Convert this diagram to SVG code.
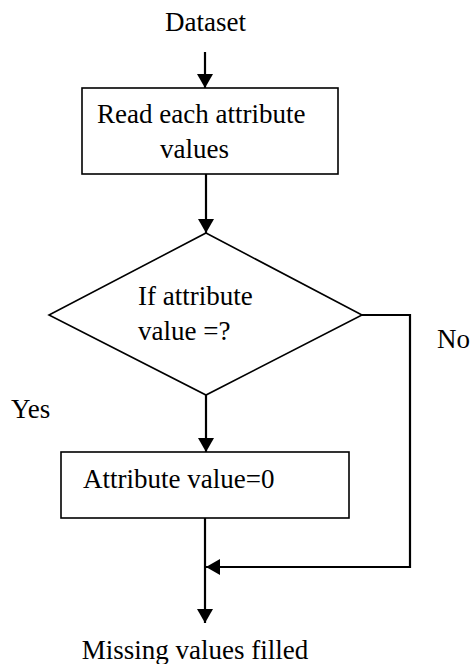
<svg xmlns="http://www.w3.org/2000/svg" width="472" height="664" viewBox="0 0 472 664">
<style>
text{font-family:"Liberation Serif","Times New Roman",serif;font-size:27px;fill:#000}
.shape{fill:#fff;stroke:#000;stroke-width:1.6}
.conn{fill:none;stroke:#000;stroke-width:2.2}
</style>
<defs>
<marker id="arr" markerUnits="userSpaceOnUse" markerWidth="14" markerHeight="16" refX="14" refY="8" orient="auto">
<path d="M0,0 L14,8 L0,16 z" fill="#000"/>
</marker>
</defs>
<rect width="472" height="664" fill="#fff"/>
<g id="connectors">
<path class="conn" d="M205,52 V88" marker-end="url(#arr)"/>
<path class="conn" d="M206,174 V233" marker-end="url(#arr)"/>
<path class="conn" d="M206,395 V452" marker-end="url(#arr)"/>
<path class="conn" d="M205,518 V623" marker-end="url(#arr)"/>
<path class="conn" d="M362,315 H410 V567 H206" marker-end="url(#arr)"/>
</g>
<g id="start"><text x="205.5" y="31" text-anchor="middle">Dataset</text></g>
<g id="read">
<rect class="shape" x="82" y="88" width="256" height="86"/>
<text x="97" y="123">Read each attribute</text>
<text x="194.5" y="158" text-anchor="middle">values</text>
</g>
<g id="decision">
<polygon class="shape" points="206,233 362,315 206,395 49,315"/>
<text x="138" y="305">If attribute</text>
<text x="138" y="340">value =?</text>
</g>
<g id="label-no"><text x="437" y="348">No</text></g>
<g id="label-yes"><text x="11" y="418">Yes</text></g>
<g id="assign">
<rect class="shape" x="61" y="452" width="288" height="66"/>
<text x="83" y="488">Attribute value=0</text>
</g>
<g id="end"><text x="195" y="659" text-anchor="middle">Missing values filled</text></g>
</svg>
